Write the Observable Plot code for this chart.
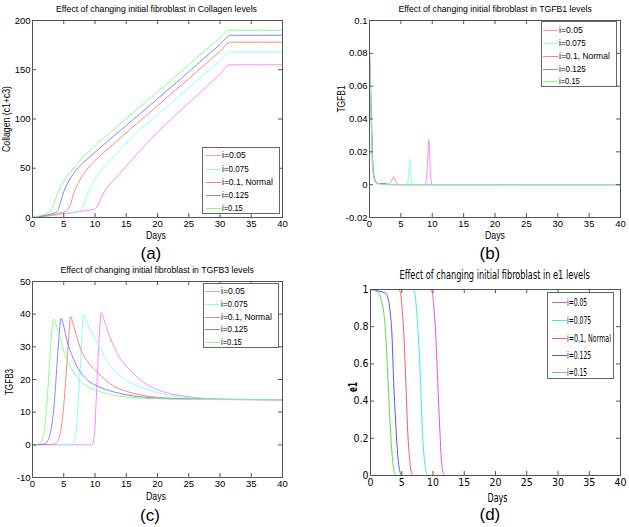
<!DOCTYPE html>
<html>
<head>
<meta charset="utf-8">
<script src="https://cdn.jsdelivr.net/npm/d3@7"></script>
<script src="https://cdn.jsdelivr.net/npm/@observablehq/plot@0.6"></script>
<style>
  body { margin: 0; background: #fff; }
  #wrap { position: relative; width: 629px; height: 527px; overflow: hidden; background: #fff; }
  .t { position: absolute; white-space: nowrap; line-height: 1; transform-origin: 50% 50%; color: #000; }
  .p { position: absolute; }
  .lg { position: absolute; border: 1px solid #666; background: #fff; box-sizing: border-box; }
  .sw { position: absolute; height: 1px; }
</style>
</head>
<body>
<div id="wrap"></div>
<script>
// ---------------- data ----------------
const xTicks = [0, 5, 10, 15, 20, 25, 30, 35, 40];
const collagenTicks = [0, 50, 100, 150, 200];
const tgfb1Ticks = [-0.02, 0, 0.02, 0.04, 0.06, 0.08, 0.1];
const tgfb3Ticks = [-10, 0, 10, 20, 30, 40, 50];
const e1Ticks = [0, 0.2, 0.4, 0.6, 0.8, 1];
const seriesLabels = ["i=0.05", "i=0.075", "i=0.1, Normal", "i=0.125", "i=0.15"];
const panelTitles = [
  "Effect of changing initial fibroblast in Collagen  levels",
  "Effect of changing initial fibroblast in TGFB1 levels",
  "Effect of changing initial fibroblast in TGFB3 levels",
  "Effect of changing initial fibroblast in e1 levels"
];
const yLabels = ["Collagen (c1+c3)", "TGFB1", "TGFB3", "e1"];
const panelTags = ["(a)", "(b)", "(c)", "(d)"];
const lightColors = ["#ff85ff", "#85ffff", "#ff8585", "#8585ff", "#85ff85"];
const strongColors = ["#e055e0", "#40e8e8", "#f06060", "#5555f0", "#50dd50"];

// Collagen (c1+c3) : [day, value]
const collagen_005 = [[0,0],[3,2],[6,4.5],[8,6.5],[10,8.8],[10.5,13],[11,20],[11.5,26],[12,31],[13,38],[14,45],[15,52],[16.5,63],[17.8,72],[20,86.5],[25,116.3],[30,145.6],[31.6,155],[32,155],[40,155]];
const collagen_0075 = [[0,0],[3,2],[6,5],[7.7,7],[8.3,15],[9.3,31],[10.5,44],[11.95,54.5],[14.1,69.5],[17,88],[20,104.4],[25,131.8],[30,159.2],[31.6,168],[32,168],[40,168]];
const collagen_01 = [[0,0],[3,2.5],[5.5,7],[6,12],[6.6,25],[7.5,37],[8.75,49],[10,58],[11.4,66],[13.8,79.5],[17,97],[20,113.5],[25,141],[30,168.6],[31.7,178],[32,178],[40,178]];
const collagen_0125 = [[0,0],[2,2],[3.95,6],[4.4,14],[5,26],[5.8,37],[6.6,45],[8,55],[9.3,62.5],[11.95,77],[15,93.5],[20,120.4],[25,148],[30,175.6],[31.7,185],[32,185],[40,185]];
const collagen_015 = [[0,0],[1.5,2.5],[2.9,7],[3.3,12],[3.7,19],[4.3,29],[5,37],[6,46],[7.15,54.5],[8.5,64],[10.35,75],[13,89.5],[15,100.5],[20,127.5],[25,155],[30,182.6],[31.4,190],[32,190],[40,190]];

// TGFB1 : [day, value]
const tgfb1_005 = [[0,0.08],[0.15,0.058],[0.3,0.036],[0.5,0.014],[0.8,0.004],[1.2,0.001],[2,0.0002],[4,0],[8.9,0],[9.2,0.01],[9.45,0.0275],[9.7,0.009],[9.95,0],[40,0]];
const tgfb1_0075 = [[0,0.08],[0.15,0.059],[0.3,0.038],[0.5,0.015],[0.8,0.004],[1.2,0.001],[2,0.0002],[5.95,0],[6.2,0.005],[6.42,0.0155],[6.6,0.005],[6.8,0],[40,0]];
const tgfb1_01 = [[0,0.08],[0.15,0.06],[0.3,0.04],[0.5,0.015],[0.8,0.004],[1.2,0.001],[2,0.0003],[3.0,0.0004],[3.4,0.0018],[3.85,0.0045],[4.2,0.002],[4.6,0],[40,0]];
const tgfb1_0125 = [[0,0.08],[0.15,0.061],[0.3,0.042],[0.5,0.012],[0.8,0.003],[1.2,0.0008],[2,0.0006],[2.5,0.0008],[3,0],[40,0]];
const tgfb1_015 = [[0,0.08],[0.15,0.06],[0.3,0.035],[0.5,0.01],[0.8,0.003],[1.2,0.0007],[1.6,0.0004],[2,0],[40,0]];

// TGFB3 : [day, value]
const tgfb3_005 = [[0,0],[9.5,0],[9.9,3],[10.2,14],[10.5,27],[10.8,37],[11.0,40.5],[11.4,38.5],[12,35],[13,30.2],[14,26.5],[15.7,22.7],[18.3,18.5],[21,16.2],[24,15],[27,14.3],[30,14],[40,13.8]];
const tgfb3_0075 = [[0,0],[6.3,0.2],[6.8,2],[7.2,10],[7.6,22],[7.9,33],[8.2,39.9],[8.6,38],[9.3,35],[10.35,31.4],[11.5,27],[13,23],[15.7,19],[18.3,17],[21,15.5],[25,14.4],[30,14],[40,13.8]];
const tgfb3_01 = [[0,0],[3.5,0.2],[4,1],[4.5,4],[5,12],[5.4,22],[5.8,33],[6.1,39.3],[6.5,37],[7.7,29.4],[9,25],[10.35,22.2],[13,18],[15.7,16],[18,15],[22,14.3],[27,14],[40,13.8]];
const tgfb3_0125 = [[0,0],[2,0.3],[2.5,1.5],[3,5],[3.5,13],[3.9,24],[4.2,32],[4.6,38.8],[4.9,37],[5.5,32],[6.5,26.5],[7.7,22.2],[9,19.5],[10.35,18],[13,16.2],[16,15],[20,14.3],[25,14],[30,13.9],[40,13.8]];
const tgfb3_015 = [[0,0],[1,0.3],[1.5,1.5],[2,6],[2.4,15],[2.8,27],[3.1,35],[3.4,38.5],[3.8,36.5],[4.5,32],[5.5,26],[6.6,22.2],[8,19],[10.35,16.6],[13,15.2],[16,14.5],[20,14.1],[25,13.9],[30,13.85],[40,13.8]];

// e1 : [day, value]
const e1_005 = [[0,1],[9.6,1],[9.9,0.98],[10.15,0.9],[10.4,0.78],[10.75,0.51],[11.1,0.24],[11.4,0.06],[11.7,0.01],[12,0],[40,0]];
const e1_0075 = [[0,1],[6.8,1],[7.1,0.98],[7.35,0.9],[7.6,0.78],[8.0,0.51],[8.3,0.24],[8.7,0.06],[9.0,0.01],[9.2,0],[40,0]];
const e1_01 = [[0,1],[4.5,1],[4.8,0.98],[5.05,0.9],[5.3,0.78],[5.65,0.51],[5.95,0.24],[6.35,0.06],[6.6,0.01],[6.9,0],[40,0]];
const e1_0125 = [[0,1],[1.5,0.99],[2.4,0.98],[2.9,0.94],[3.2,0.86],[3.4,0.78],[3.7,0.51],[4.1,0.24],[4.5,0.06],[4.8,0.01],[5.0,0],[40,0]];
const e1_015 = [[0,1],[1,0.99],[1.5,0.97],[1.8,0.93],[2.1,0.88],[2.4,0.78],[2.8,0.51],[3.2,0.24],[3.6,0.06],[3.9,0.01],[4.2,0],[40,0]];

// ---------------- drawing ----------------
const SANS = '"Liberation Sans", Arial, sans-serif';
const NARROW = '"Liberation Sans Narrow", "DejaVu Sans Condensed", "Liberation Sans", sans-serif';
const wrap = document.getElementById("wrap");

function panel({left, top, width, height, mt, mr, mb, ml, yDomain, yTicks, series, colors, family, fontSize, padX, padY, frameColor}) {
  const fw = width - ml - mr, fh = height - mt - mb;
  const marks = series.map((s, i) => Plot.line(s, {x: d => d[0], y: d => d[1], stroke: colors[i], strokeWidth: 1, curve: "monotone-x"}));
  marks.push(
    Plot.frame({stroke: frameColor}),
    Plot.tickX(xTicks, {x: d => d, insetTop: fh - 4, stroke: frameColor}),
    Plot.tickX(xTicks, {x: d => d, insetBottom: fh - 4, stroke: frameColor}),
    Plot.tickY(yTicks, {y: d => d, insetRight: fw - 4, stroke: frameColor}),
    Plot.tickY(yTicks, {y: d => d, insetLeft: fw - 4, stroke: frameColor}),
    Plot.axisX(xTicks, {tickSize: 0, tickPadding: padX, tickFormat: d => String(d), label: null}),
    Plot.axisY(yTicks, {tickSize: 0, tickPadding: padY, tickFormat: d => String(d), label: null})
  );
  const svg = Plot.plot({
    width, height, marginTop: mt, marginRight: mr, marginBottom: mb, marginLeft: ml,
    x: {domain: [0, 40]},
    y: {domain: yDomain},
    style: {fontFamily: family, fontSize: fontSize + "px", color: "#000", background: "transparent", overflow: "visible"},
    marks
  });
  const holder = document.createElement("div");
  holder.className = "p";
  holder.style.left = left + "px";
  holder.style.top = top + "px";
  holder.appendChild(svg);
  wrap.appendChild(holder);
}

function label(text, cx, cy, {size = 9, width = null, rotate = false, family = SANS, weight = "normal"} = {}) {
  const el = document.createElement("div");
  el.className = "t";
  el.textContent = text;
  el.style.fontSize = size + "px";
  el.style.fontFamily = family;
  el.style.fontWeight = weight;
  wrap.appendChild(el);
  const w = el.offsetWidth, h = el.offsetHeight;
  const s = width ? width / w : 1;
  el.style.left = (cx - w / 2) + "px";
  el.style.top = (cy - h / 2) + "px";
  el.style.transform = (rotate ? "rotate(-90deg) " : "") + `scaleX(${s})`;
}

function legend({x, y, w, h, rows, sw1, sw2, tx, colors, size, family, textWidth}) {
  const box = document.createElement("div");
  box.className = "lg";
  box.style.left = x + "px"; box.style.top = y + "px";
  box.style.width = w + "px"; box.style.height = h + "px";
  wrap.appendChild(box);
  seriesLabels.forEach((lab, i) => {
    const ry = rows[i];
    const sw = document.createElement("div");
    sw.className = "sw";
    sw.style.left = sw1 + "px"; sw.style.width = (sw2 - sw1) + "px";
    sw.style.top = Math.round(ry) + "px";
    sw.style.background = colors[i];
    wrap.appendChild(sw);
    const el = document.createElement("div");
    el.className = "t";
    el.textContent = lab;
    el.style.fontSize = size + "px";
    el.style.fontFamily = family;
    wrap.appendChild(el);
    const ew = el.offsetWidth, eh = el.offsetHeight;
    const s = textWidth ? textWidth[i] / ew : 1;
    el.style.transformOrigin = "0 50%";
    el.style.left = tx + "px";
    el.style.top = (ry - eh / 2) + "px";
    el.style.transform = `scaleX(${s})`;
  });
}

// (a) Collagen
panel({left: 0, top: 0, width: 310, height: 250, mt: 20, mr: 28, mb: 33, ml: 32,
  yDomain: [0, 200], yTicks: collagenTicks,
  series: [collagen_005, collagen_0075, collagen_01, collagen_0125, collagen_015],
  colors: lightColors, family: SANS, fontSize: 9.5, padX: 3, padY: 2, frameColor: "#555"});
// (b) TGFB1
panel({left: 310, top: 0, width: 319, height: 250, mt: 20, mr: 9, mb: 33, ml: 59,
  yDomain: [-0.02, 0.1], yTicks: tgfb1Ticks,
  series: [tgfb1_005, tgfb1_0075, tgfb1_01, tgfb1_0125, tgfb1_015],
  colors: lightColors, family: SANS, fontSize: 9.5, padX: 3, padY: 2, frameColor: "#555"});
// (c) TGFB3
panel({left: 0, top: 250, width: 310, height: 277, mt: 31, mr: 28, mb: 50, ml: 32,
  yDomain: [-10, 50], yTicks: tgfb3Ticks,
  series: [tgfb3_005, tgfb3_0075, tgfb3_01, tgfb3_0125, tgfb3_015],
  colors: lightColors, family: SANS, fontSize: 9.5, padX: 3, padY: 2, frameColor: "#555"});
// (d) e1
panel({left: 310, top: 250, width: 319, height: 277, mt: 39, mr: 9, mb: 52, ml: 60,
  yDomain: [0, 1], yTicks: e1Ticks,
  series: [e1_005, e1_0075, e1_01, e1_0125, e1_015],
  colors: strongColors, family: NARROW, fontSize: 10.5, padX: 3, padY: 2, frameColor: "#555"});

// titles
label(panelTitles[0], 156.5, 9, {size: 9, width: 201});
label(panelTitles[1], 494.5, 9, {size: 9, width: 193});
label(panelTitles[2], 156.5, 270, {size: 9, width: 193});
label(panelTitles[3], 494.5, 274, {size: 13, width: 190, family: NARROW});

// axis labels
label(yLabels[0], 7, 119, {size: 10, width: 66, rotate: true});
label(yLabels[1], 342, 99, {size: 10, width: 27, rotate: true});
label(yLabels[2], 10, 382, {size: 10, width: 26, rotate: true});
label(yLabels[3], 353, 387, {size: 12, width: 10, rotate: true, family: NARROW, weight: "bold"});
label("Days", 156, 235, {size: 10.5, width: 20});
label("Days", 495, 235, {size: 10.5, width: 20});
label("Days", 156, 496, {size: 10.5, width: 20});
label("Days", 497, 498, {size: 12, width: 20, family: NARROW});

// panel tags
label(panelTags[0], 151, 253, {size: 17});
label(panelTags[1], 490, 253, {size: 17});
label(panelTags[2], 150, 515, {size: 17});
label(panelTags[3], 490, 514, {size: 17});

// legends
const wAbc = [24, 27, 51, 27, 21];
legend({x: 202, y: 147, w: 78, h: 67, rows: [155, 169, 182, 195, 208], sw1: 206, sw2: 221, tx: 222,
  colors: lightColors, size: 9, family: SANS, textWidth: wAbc});
legend({x: 541, y: 21, w: 76, h: 66, rows: [30, 43, 56, 69, 81], sw1: 543, sw2: 558, tx: 559,
  colors: lightColors, size: 9, family: SANS, textWidth: wAbc});
legend({x: 203, y: 283, w: 76, h: 65, rows: [291, 304, 317, 329, 342], sw1: 205, sw2: 220, tx: 221,
  colors: lightColors, size: 9, family: SANS, textWidth: wAbc});
legend({x: 547, y: 292, w: 67, h: 87, rows: [302, 320, 338, 355, 372], sw1: 552, sw2: 567, tx: 567,
  colors: strongColors, size: 11, family: NARROW, textWidth: [20, 24, 44, 24, 20]});
</script>
</body>
</html>
